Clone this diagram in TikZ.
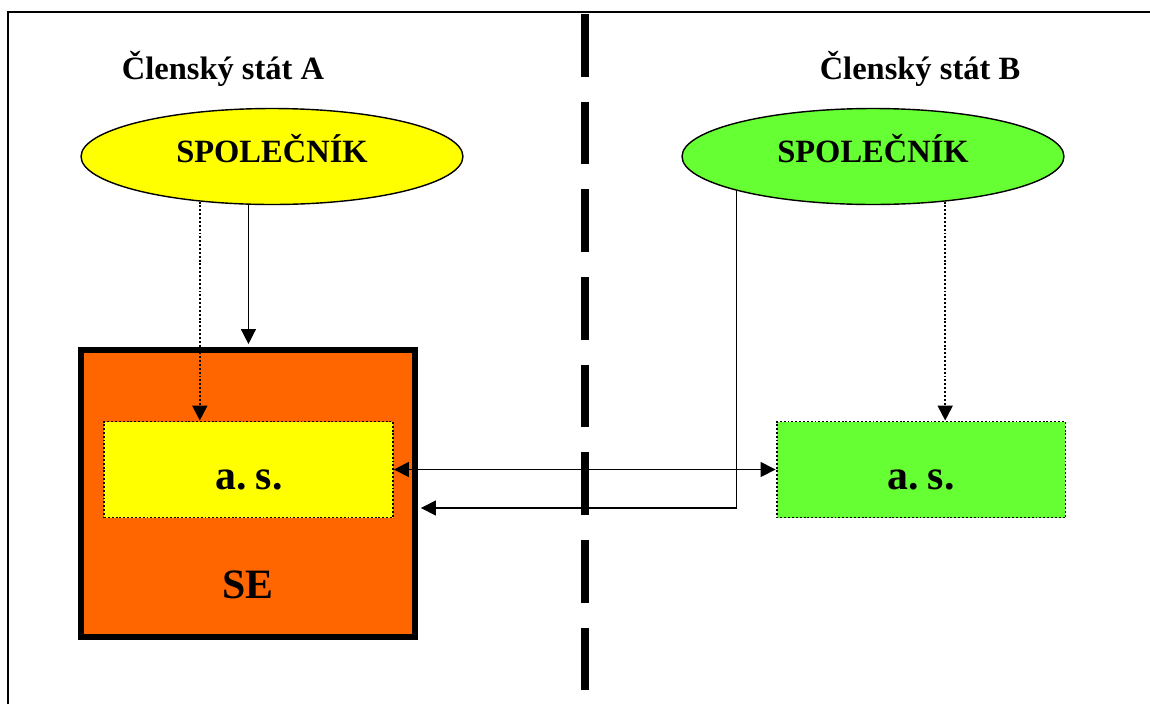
\documentclass[tikz,border=0pt]{standalone}
\usepackage{fontspec}
\setmainfont{Liberation Serif}
\usetikzlibrary{positioning,shapes.geometric,arrows.meta,calc}
\definecolor{partnerYellow}{RGB}{255,255,0}
\definecolor{partnerGreen}{RGB}{102,255,51}
\definecolor{seOrange}{RGB}{255,102,0}
\tikzstyle{frameLine} = [color=black, line width=0.85pt]
\tikzstyle{borderLine} = [color=black, line width=4.5pt, dash pattern=on 35.7pt off 14.2pt]
\tikzstyle{stateText} = [font=\fontsize{18.5}{22}\selectfont\bfseries, anchor=base, inner sep=0]
\tikzstyle{bigText} = [font=\fontsize{23.8}{28}\selectfont\bfseries, execute at begin node={\spaceskip=0.13em\relax}, anchor=base, inner sep=0]
\tikzstyle{partnerStyle} = [ellipse, draw, line width=0.8pt, minimum width=7.64cm, minimum height=1.92cm, inner sep=0]
\tikzstyle{seStyle} = [rectangle, draw, fill=seOrange, line width=3.4pt, minimum width=6.68cm, minimum height=5.74cm, inner sep=0]
\tikzstyle{companyStyle} = [rectangle, draw, line width=1.1pt, dash pattern=on 1.1pt off 1.1pt, minimum width=5.78cm, minimum height=1.92cm, inner sep=0]
\tikzstyle{holdLine} = [color=black, line width=0.8pt, ->]
\tikzstyle{shareLine} = [holdLine, line width=1.1pt, dash pattern=on 1.1pt off 1.1pt]
\begin{document}
\begin{tikzpicture}[x=0.02cm, y=-0.02cm, >={Triangle[length=8.5pt, width=8.5pt]}]
  \useasboundingbox (0,0) rectangle (1150,704);
  \draw[frameLine] (8,704) -- (8,12) -- (1150,12);
  \draw[borderLine] (585,14) -- (585,693);

  \node[stateText] (stateA) at (223,79) {Členský stát A};
  \node[stateText] (stateB) at (920,79) {Členský stát B};

  \node[partnerStyle, fill=partnerYellow] (partnerA) at (272,156.5) {};
  \node[partnerStyle, fill=partnerGreen] (partnerB) at (873,156.5) {};
  \node[stateText] (partnerAText) at (272,162) {SPOLEČNÍK};
  \node[stateText] (partnerBText) at (873,162) {SPOLEČNÍK};

  \node[seStyle] (se) at (248,493.5) {};
  \node[bigText] (seText) at (248,598) {SE};
  \node[companyStyle, fill=partnerYellow] (companyA) at (248.5,469.5) {};
  \node[companyStyle, fill=partnerGreen] (companyB) at (921,469.5) {};
  \node[bigText] (companyAText) at (249,489) {a. s.};
  \node[bigText] (companyBText) at (921,489) {a. s.};

  \draw[holdLine, shorten >=1.7pt] (partnerA.244) -- (partnerA.244 |- se.north);
  \draw[shareLine] (partnerA.212) -- (partnerA.212 |- companyA.north);
  \draw[holdLine, <->] (companyA.east) -- (companyB.west);
  \draw[holdLine, shorten >=1.7pt] (partnerB.194) |- ($(se.east)+(0,14.5)$);
  \draw[shareLine] (partnerB.328) -- (partnerB.328 |- companyB.north);
\end{tikzpicture}
\end{document}
